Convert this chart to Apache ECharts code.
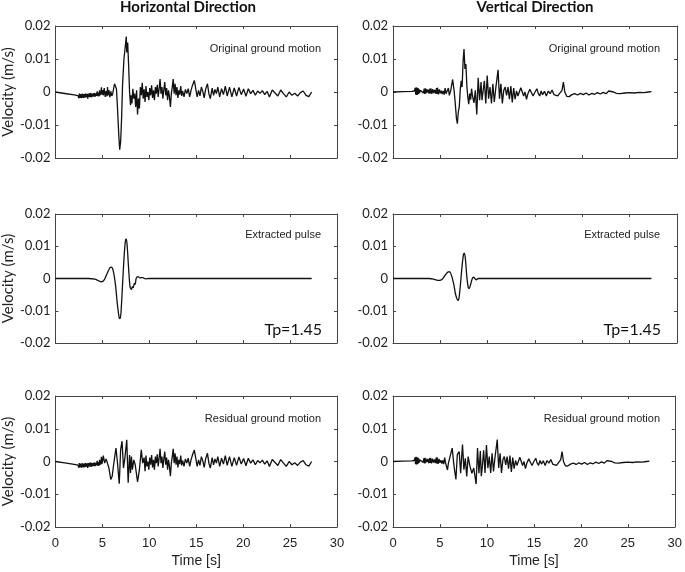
<!DOCTYPE html>
<html>
<head>
<meta charset="utf-8">
<script src="https://cdn.jsdelivr.net/npm/echarts@6/dist/echarts.min.js"></script>
<style>html,body{margin:0;padding:0;background:#fff}#c{width:685px;height:572px}</style>
</head>
<body>
<div id="c"></div>
<script>
// values in mm/s, time in s
const H_start = [[0,0],[1,-0.45],[2,-0.9],[2.4,-1.1]];
const H_early = [[2.45,-0.5],[2.5,-1.9],[2.55,-0.5],[2.6,-1.8],[2.65,-0.6],[2.7,-1.8],[2.75,-0.7],[2.8,-1.9],[2.85,-0.5],[2.9,-1.7],[2.95,-0.7],[3.0,-1.8],[3.05,-0.6],[3.15,-1.7],[3.2,-0.5],[3.25,-1.6],[3.35,-0.6],[3.45,-2.0],[3.5,-0.5],[3.55,-1.5],[3.65,-0.4],[3.7,-1.6],[3.75,-0.3],[3.85,-1.6],[3.9,-0.5],[3.95,-1.4],[4.05,-0.4],[4.1,-1.4],[4.15,-0.3],[4.25,-1.4],[4.3,-0.4],[4.35,-1.2],[4.45,0.2],[4.5,-1.3],[4.55,-0.2],[4.65,-1.3],[4.7,0.5],[4.75,-1.0],[4.85,-0.2],[4.9,1.4],[4.95,-0.8]];
const H_orig_head = [[5.05,0.6],[5.1,-1.0],[5.2,1.2],[5.3,-1.5],[5.4,0.3],[5.5,-1.3],[5.55,1.5],[5.6,-1.0],[5.7,0.6],[5.8,-1.6],[5.9,0.2],[6.0,-1.2],[6.1,-0.5],[6.3,2.5],[6.4,3.0],[6.5,1.0],[6.6,-4],[6.75,-13],[6.85,-17.5],[6.95,-15],[7.05,-8],[7.15,2],[7.3,10],[7.45,14],[7.55,16.8],[7.6,12],[7.7,15],[7.8,8],[7.9,0],[8.0,-4],[8.05,-1],[8.15,-3.5],[8.25,1],[8.35,-2],[8.45,-0.5],[8.55,-4.5],[8.65,0.5],[8.75,-6.8],[8.85,-2],[8.95,-5],[9.05,1.5],[9.15,-1],[9.25,2.8],[9.35,-2],[9.45,0.8]];
const H_resid_head = [[5.05,0.6],[5.1,1.8],[5.25,-0.5],[5.4,0.8],[5.55,1.2],[5.7,-2],[5.9,-5.5],[6.05,-4.5],[6.2,-1],[6.45,4.1],[6.6,0],[6.8,-6.8],[6.95,3.6],[7.1,6.2],[7.25,-2],[7.4,1],[7.6,6.6],[7.75,-6.5],[7.9,2],[8.0,-3.5],[8.1,1.5],[8.2,-2.5],[8.35,0.5],[8.5,-1],[8.75,-6.2],[8.95,-2.5],[9.15,3.6],[9.3,-0.5],[9.45,1.2]];
const H_tail = [[9.55,-3],[9.65,1.8],[9.75,-1.5],[9.85,0],[9.95,-2.5],[10.05,1.2],[10.15,-1],[10.25,2],[10.35,-1.8],[10.45,0.5],[10.55,-2.5],[10.65,1.5],[10.75,-0.5],[10.85,2.2],[10.95,-1.5],[11.05,1],[11.15,3.9],[11.25,-0.5],[11.35,1.5],[11.45,-2],[11.55,0.8],[11.65,3],[11.75,-1],[11.85,1.2],[11.95,-2.5],[12.05,0.5],[12.15,-1.5],[12.25,-4.5],[12.35,-0.5],[12.45,1.5],[12.55,3.9],[12.65,-0.5],[12.75,2.5],[12.85,-1],[12.95,1.5],[13.05,-1.8],[13.15,0.5],[13.25,-0.8],[13.35,1.8],[13.45,-1.2],[13.55,0.3],[13.7,-1.5],[13.85,0.8],[14.0,-0.5],[14.15,1],[14.3,-1.5],[14.45,0.5],[14.6,2],[14.8,3.5],[14.95,1],[15.1,-1.5],[15.25,0.5],[15.4,-1.2],[15.55,1.5],[15.7,0.2],[15.85,-1.8],[16.0,0.8],[16.2,2.5],[16.35,-0.5],[16.5,-2.0],[16.7,1.2],[16.85,-1],[17.0,0.8],[17.15,-0.5],[17.3,1.5],[17.5,-1.5],[17.7,1],[17.9,-0.8],[18.1,1.8],[18.3,-1.2],[18.55,1.5],[18.8,-1.5],[19.05,1.2],[19.3,-1.2],[19.55,1.4],[19.8,-0.8],[20.05,0.9],[20.3,-1.3],[20.55,1.0],[20.8,-0.5],[21.05,0.5],[21.3,-1.0],[21.55,0.3],[21.8,-0.4],[22.05,0.4],[22.3,-0.8],[22.55,0.2],[22.8,-1.5],[23.1,0.6],[23.4,-0.3],[23.7,-1.2],[24.0,0.6],[24.3,-0.5],[24.6,-1.5],[24.9,0],[25.2,-1],[25.5,-0.4],[25.8,-1.2],[26.1,-0.2],[26.4,0.3],[26.7,-1],[27.0,-1.4],[27.3,0]];
const H_pulse = [[0,0],[3.5,0],[4.2,-0.2],[4.6,-0.7],[4.9,-1.0],[5.2,-0.4],[5.5,1.5],[5.8,3.3],[5.95,3.5],[6.15,2.5],[6.4,-2],[6.6,-8],[6.8,-12.2],[6.9,-12.4],[7.0,-10],[7.15,-2],[7.3,6],[7.45,11.5],[7.55,12.3],[7.65,10],[7.8,3],[7.95,-2.5],[8.1,-3.4],[8.2,-2.5],[8.3,-2.8],[8.4,-1.5],[8.5,-1.8],[8.6,0],[8.8,0.6],[9.0,0.2],[9.3,0.3],[9.6,-0.1],[10,0],[27.3,0]];

const V_start = [[0,0],[1,0.1],[2,0.2],[2.25,0.3]];
const V_early = [[2.3,0.3],[2.35,1.2],[2.4,-0.8],[2.45,1.4],[2.5,-0.9],[2.55,1.3],[2.6,-0.8],[2.65,1.2],[2.7,-0.6],[2.75,0.9],[2.8,-0.3],[2.9,0.5],[3.0,0],[3.1,0.6],[3.2,-0.3],[3.3,1.0],[3.35,-0.6],[3.4,1.1],[3.45,-0.5],[3.5,0.9],[3.6,-0.2],[3.7,0.8],[3.8,-0.5],[3.9,1.0],[3.95,-0.4],[4.0,1.1],[4.1,-0.6],[4.2,0.9],[4.3,-0.3],[4.4,0.6],[4.5,-0.5],[4.6,1.2],[4.65,-0.6],[4.7,1.3],[4.8,-0.7],[4.9,0.8],[5.0,-0.4],[5.1,0.4],[5.2,-0.6],[5.3,0.3],[5.4,-0.8],[5.5,1.2],[5.6,-0.5]];
const V_orig_head = [[5.7,-0.8],[5.85,1.2],[5.95,-1.0],[6.1,0.5],[6.3,3.8],[6.45,0.5],[6.55,-2.5],[6.7,-8],[6.8,-9.6],[6.9,-6],[7.0,-4.5],[7.1,0.5],[7.2,3.4],[7.3,1.5],[7.4,9],[7.5,13],[7.6,7],[7.7,8.5],[7.8,2],[7.9,-1.5],[8.0,-3.7],[8.1,-0.5],[8.2,-2.3],[8.3,1],[8.4,-1.2],[8.55,-3.3],[8.7,0.5],[8.85,-6.8],[9.0,4.3],[9.15,-2.5],[9.3,3.0],[9.4,-2.5]];
const V_resid_head = [[5.7,-0.5],[5.8,-2.6],[5.9,-0.5],[6.05,-1.0],[6.3,4.1],[6.5,-1.5],[6.7,-5.5],[6.85,2.2],[7.05,3],[7.2,-3.6],[7.4,5.2],[7.55,-2.5],[7.7,1],[7.85,-4.6],[8.0,1.5],[8.2,-1.5],[8.4,-3.6],[8.6,-2],[8.85,-6.9],[9.0,4.1],[9.15,-3.6],[9.3,3.2],[9.4,-4.5]];
const V_tail = [[9.5,-2],[9.65,3.4],[9.8,-3.5],[9.95,5],[10.1,-2],[10.25,1.5],[10.4,-3.5],[10.55,2.5],[10.7,-3],[10.85,1],[11.1,6.7],[11.25,-2],[11.4,2.5],[11.55,-3.5],[11.7,0.5],[11.85,1.5],[12.0,-1],[12.15,1.5],[12.3,-2.2],[12.45,1.8],[12.6,-3.2],[12.75,1.2],[12.9,-2.2],[13.05,0.3],[13.2,-1.2],[13.35,-0.8],[13.5,1.3],[13.65,0.8],[13.8,-1.2],[13.95,0],[14.1,-2.2],[14.25,-0.5],[14.45,0.8],[14.6,0.9],[14.8,-1.2],[15.0,0],[15.2,1.0],[15.35,-0.5],[15.5,-1.2],[15.65,0.3],[15.8,-0.8],[16.0,0.2],[16.2,-1.2],[16.4,0.3],[16.6,-0.5],[16.8,0.6],[17.0,-0.8],[17.2,-0.2],[17.4,-1.2],[17.6,-0.6],[17.85,0.5],[18.0,3.0],[18.15,0],[18.35,-1.3],[18.6,-1.4],[18.9,-0.8],[19.2,-0.5],[19.5,-0.9],[19.8,-0.4],[20.1,-0.8],[20.4,-0.3],[20.7,-0.9],[21.0,-0.4],[21.3,-0.7],[21.6,-0.2],[21.9,-0.6],[22.2,-0.1],[22.5,-0.5],[22.8,0.3],[23.0,0.6],[23.3,0],[23.6,-0.4],[24.0,-0.5],[24.5,-0.3],[25.0,-0.2],[25.5,-0.3],[26.0,-0.1],[26.5,-0.2],[27.0,0],[27.3,0.1]];
const V_pulse = [[0,0],[3.8,0],[4.3,-0.2],[4.6,-0.5],[4.9,-0.6],[5.2,-0.2],[5.5,1.0],[5.8,2.0],[5.95,2.1],[6.15,1.2],[6.4,-1.5],[6.6,-4.8],[6.8,-6.6],[6.9,-6.8],[7.0,-5.5],[7.15,-1],[7.3,4],[7.45,7.5],[7.55,7.8],[7.65,6],[7.8,0.5],[7.95,-2.8],[8.05,-3.1],[8.2,-1.8],[8.35,-0.2],[8.5,0.4],[8.65,0],[8.8,-0.4],[9.0,0],[27.3,0]];

const xTicks = [0, 30, 5];          // min, max, interval (s)
const yTicks = [-0.02, 0.02, 0.01]; // min, max, interval (m/s)
const colTitles = ['Horizontal Direction', 'Vertical Direction'];
const rowLabels = ['Original ground motion', 'Extracted pulse', 'Residual ground motion'];
const tpLabel = 'Tp=1.45';

const H_orig = H_start.concat(H_early, H_orig_head, H_tail);
const H_resid = H_start.concat(H_early, H_resid_head, H_tail);
const V_orig = V_start.concat(V_early, V_orig_head, V_tail);
const V_resid = V_start.concat(V_early, V_resid_head, V_tail);
const panels = [[H_orig, H_pulse, H_resid], [V_orig, V_pulse, V_resid]];

const toMS = a => a.map(p => [p[0], p[1] / 1000]);
const yFmt = v => Math.abs(v) < 1e-9 ? '0' : v.toFixed(2);

const lefts = [53, 393], tops = [26, 214, 396], heights = [132, 129, 131], W = 284;
const grid = [], xAxis = [], yAxis = [], series = [], graphic = [];
const axisLine = {show: true, onZero: false, lineStyle: {color: '#444', width: 1}};
const tick = {show: true, inside: true, length: 3, lineStyle: {color: '#444'}};
let gi = 0;
for (let c = 0; c < 2; c++) {
  for (let r = 0; r < 3; r++) {
    grid.push({left: lefts[c], top: tops[r], width: W, height: heights[r]});
    const bottomRow = r === 2;
    xAxis.push({type: 'value', gridIndex: gi, position: 'bottom', min: xTicks[0], max: xTicks[1], interval: xTicks[2],
      axisLine, axisTick: tick, splitLine: {show: false},
      axisLabel: {show: bottomRow, margin: 10, color: '#222', fontSize: 13, fontFamily: 'Liberation Sans'},
      name: bottomRow ? 'Time [s]' : '', nameLocation: 'middle', nameGap: 27,
      nameTextStyle: {color: '#222', fontSize: 14, fontFamily: 'Liberation Sans'}});
    xAxis.push({type: 'value', gridIndex: gi, position: 'top', min: xTicks[0], max: xTicks[1], interval: xTicks[2],
      axisLine, axisTick: tick, axisLabel: {show: false}, splitLine: {show: false}});
    yAxis.push({type: 'value', gridIndex: gi, position: 'left', min: yTicks[0], max: yTicks[1], interval: yTicks[2],
      axisLine, axisTick: tick, splitLine: {show: false},
      axisLabel: {formatter: yFmt, margin: 5, color: '#222', fontSize: 13, fontFamily: 'Lato'},
      name: c === 0 ? 'Velocity (m/s)' : '', nameLocation: 'middle', nameGap: 37,
      nameTextStyle: {color: '#222', fontSize: 15, fontFamily: 'Lato'}});
    yAxis.push({type: 'value', gridIndex: gi, position: 'right', min: yTicks[0], max: yTicks[1], interval: yTicks[2],
      axisLine, axisTick: tick, axisLabel: {show: false}, splitLine: {show: false}});
    series.push({type: 'line', xAxisIndex: 2 * gi, yAxisIndex: 2 * gi, data: toMS(panels[c][r]),
      showSymbol: false, smooth: r === 1 ? 0.3 : false, lineStyle: {color: '#111', width: 1.3}, silent: true, animation: false});
    const rightEdge = c === 0 ? 321 : 660;
    const ly = [49, 235, 419][r];
    graphic.push({type: 'text', x: rightEdge, y: ly, style: {text: rowLabels[r], font: '11px "Liberation Sans"', fill: '#222', align: 'right', verticalAlign: 'middle'}});
    if (r === 1) graphic.push({type: 'text', x: rightEdge + 1, y: 330, style: {text: tpLabel, font: '16px Lato', fill: '#111', align: 'right', verticalAlign: 'middle'}});
    gi++;
  }
  graphic.push({type: 'text', x: [188, 535][c], y: 7, style: {text: colTitles[c], font: 'bold 15px Lato', fill: '#111', align: 'center', verticalAlign: 'middle'}});
}

const chart = echarts.init(document.getElementById('c'), null, {renderer: 'canvas'});
chart.setOption({animation: false, grid, xAxis, yAxis, series, graphic});
</script>
</body>
</html>
